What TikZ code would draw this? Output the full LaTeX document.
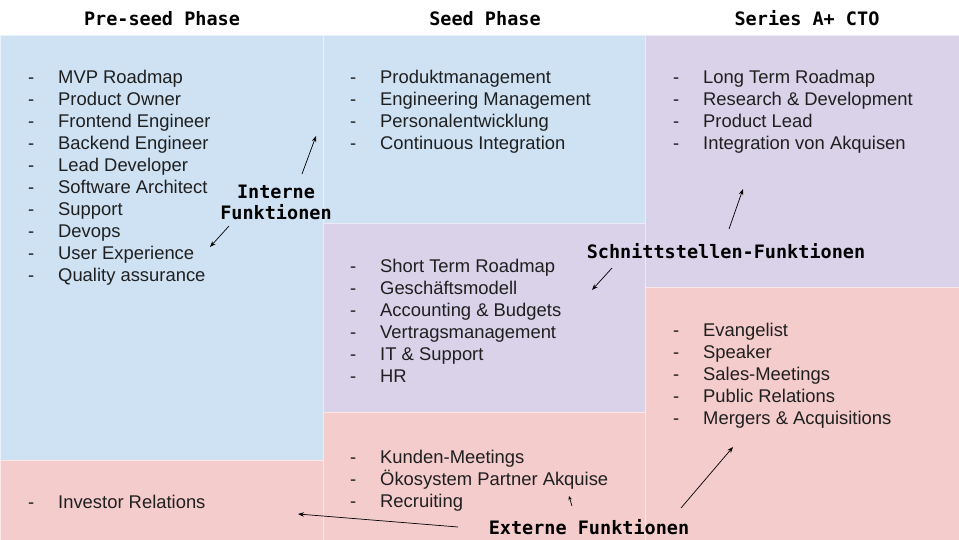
\documentclass[tikz,border=0pt]{standalone}
\usepackage{fontspec}
\setmainfont{Liberation Sans}
\newfontfamily\headfont{DejaVu Sans Mono}
\usetikzlibrary{arrows.meta}
\definecolor{cblue}{HTML}{CFE2F3}
\definecolor{cpurple}{HTML}{D9D2E9}
\definecolor{cpink}{HTML}{F4CCCC}
\tikzset{
  zone/.style={draw=white, draw opacity=0.55, line width=0.8pt},
  item/.style={anchor=base west, inner sep=0pt, font=\fontsize{18.4}{22}\selectfont, text=black!88},
  bullet/.style={anchor=base west, inner sep=0pt, font=\fontsize{18.4}{22}\selectfont, text=black!88},
  head/.style={anchor=base, inner sep=0pt, font=\headfont\bfseries\fontsize{18.5}{22}\selectfont},
  lbl/.style={anchor=base, inner sep=0pt, font=\headfont\bfseries\fontsize{18.5}{21}\selectfont, align=center},
  pointer/.style={-{Stealth[length=6pt,width=4.5pt]}, line width=0.7pt, black}
}
\begin{document}
\begin{tikzpicture}[x=1pt,y=-1pt]
\useasboundingbox (0,0) rectangle (959,540);
\fill[white] (0,0) rectangle (959,540);
% zones
\filldraw[zone, fill=cblue]   (0,35)   rectangle (323,460);
\filldraw[zone, fill=cpink]   (0,460)  rectangle (323,540);
\filldraw[zone, fill=cblue]   (323,35) rectangle (645,223);
\filldraw[zone, fill=cpurple] (323,223) rectangle (645,412);
\filldraw[zone, fill=cpink]   (323,412) rectangle (645,540);
\filldraw[zone, fill=cpurple] (645,35) rectangle (959,287);
\filldraw[zone, fill=cpink]   (645,287) rectangle (959,540);
% headings
\node[head] (h1) at (162,26) {Pre-seed Phase};
\node[head] (h2) at (485,26) {Seed Phase};
\node[head] (h3) at (807,26) {Series A+ CTO};
% pre-seed internal
\foreach \t [count=\i] in {MVP Roadmap, Product Owner, Frontend Engineer, Backend Engineer, Lead Developer, Software Architect, Support, Devops, User Experience, Quality assurance}{
  \node[bullet] (pdash\i) at (28,{83.5+22*(\i-1)}) {-};
  \node[item] (pi\i) at (58,{83.5+22*(\i-1)}) {\t};
}
% seed internal
\foreach \t [count=\i] in {Produktmanagement, Engineering Management, Personalentwicklung, Continuous Integration}{
  \node[bullet] (sdash\i) at (350,{83.5+22*(\i-1)}) {-};
  \node[item] (si\i) at (380,{83.5+22*(\i-1)}) {\t};
}
% series internal
\foreach \t [count=\i] in {Long Term Roadmap, Research \& Development, Product Lead, Integration von Akquisen}{
  \node[bullet] (adash\i) at (673,{83.5+22*(\i-1)}) {-};
  \node[item] (ai\i) at (703,{83.5+22*(\i-1)}) {\t};
}
% seed interface
\foreach \t [count=\i] in {Short Term Roadmap, Geschäftsmodell, Accounting \& Budgets, Vertragsmanagement, IT \& Support, HR}{
  \node[bullet] (smdash\i) at (350,{272.5+22*(\i-1)}) {-};
  \node[item] (sm\i) at (380,{272.5+22*(\i-1)}) {\t};
}
% series external
\foreach \t [count=\i] in {Evangelist, Speaker, Sales-Meetings, Public Relations, Mergers \& Acquisitions}{
  \node[bullet] (aedash\i) at (673,{336.5+22*(\i-1)}) {-};
  \node[item] (ae\i) at (703,{336.5+22*(\i-1)}) {\t};
}
% seed external
\foreach \t [count=\i] in {Kunden-Meetings, Ökosystem Partner Akquise, Recruiting}{
  \node[bullet] (sedash\i) at (350,{463.5+22*(\i-1)}) {-};
  \node[item] (se\i) at (380,{463.5+22*(\i-1)}) {\t};
}
% pre-seed external
\node[bullet] (pedash1) at (28,508.5) {-};
\node[item] (pe1) at (58,508.5) {Investor Relations};
% labels
\node[lbl] (intern) at (276,220) {Interne\\Funktionen};
\node[lbl] (schnitt) at (726,259) {Schnittstellen-Funktionen};
\node[lbl] (extern) at (589,534) {Externe Funktionen};
% arrow endpoints
\coordinate (i1s) at (302,174); \coordinate (i1e) at (316,136);
\coordinate (i2s) at (229,226); \coordinate (i2e) at (210,247);
\coordinate (s1s) at (729,229); \coordinate (s1e) at (743,189);
\coordinate (s2s) at (612,268); \coordinate (s2e) at (592,290);
\coordinate (e1s) at (458,527); \coordinate (e1e) at (298,514);
\coordinate (e2s) at (572,506); \coordinate (e2e) at (569,496);
\coordinate (e3s) at (681,508); \coordinate (e3e) at (733,447);
\draw[pointer] (i1s) -- (i1e);
\draw[pointer] (i2s) -- (i2e);
\draw[pointer] (s1s) -- (s1e);
\draw[pointer] (s2s) -- (s2e);
\draw[pointer] (e1s) -- (e1e);
\draw[pointer, -{Stealth[length=4pt,width=3.5pt]}] (e2s) -- (e2e);
\draw[pointer] (e3s) -- (e3e);
\end{tikzpicture}
\end{document}
